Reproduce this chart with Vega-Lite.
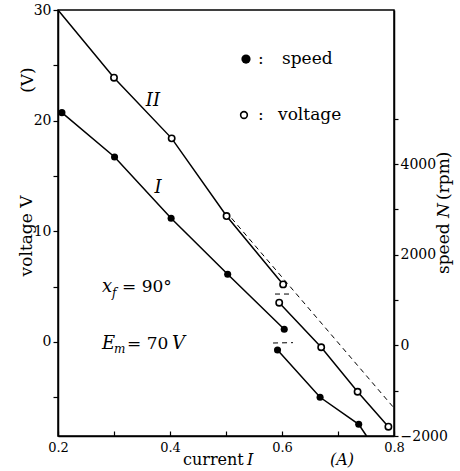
{
  "$schema": "https://vega.github.io/schema/vega-lite/v6.json",
  "width": 336,
  "height": 426,
  "autosize": {"type": "none"},
  "padding": {"left": 58, "top": 10, "right": 66, "bottom": 35},
  "background": "white",
  "config": {
    "view": {"stroke": "black", "strokeWidth": 1.5},
    "font": "DejaVu Serif",
    "text": {"font": "DejaVu Serif", "color": "black"},
    "axis": {
      "grid": false,
      "labelFont": "DejaVu Serif",
      "labelFontSize": 14,
      "labelColor": "black",
      "domainColor": "black",
      "domainWidth": 1.5,
      "tickColor": "black",
      "tickWidth": 1.2
    }
  },
  "datasets": {
    "vlines": [
      {"I": 0.2, "V": 30, "seg": "IIa", "kind": "measured"},
      {"I": 0.3, "V": 23.88, "seg": "IIa", "kind": "measured"},
      {"I": 0.403, "V": 18.4, "seg": "IIa", "kind": "measured"},
      {"I": 0.501, "V": 11.38, "seg": "IIa", "kind": "measured"},
      {"I": 0.602, "V": 5.2, "seg": "IIa", "kind": "measured"},
      {"I": 0.595, "V": 3.55, "seg": "IIb", "kind": "measured"},
      {"I": 0.67, "V": -0.48, "seg": "IIb", "kind": "measured"},
      {"I": 0.735, "V": -4.5, "seg": "IIb", "kind": "measured"},
      {"I": 0.79, "V": -7.66, "seg": "IIb", "kind": "measured"},
      {"I": 0.51, "V": 11.18, "seg": "IIext", "kind": "extrapolated"},
      {"I": 0.798, "V": -5.85, "seg": "IIext", "kind": "extrapolated"},
      {"I": 0.5875, "V": 4.33, "seg": "IIshift", "kind": "extrapolated"},
      {"I": 0.618, "V": 4.33, "seg": "IIshift", "kind": "extrapolated"}
    ],
    "voltage": [
      {"I": 0.3, "V": 23.88},
      {"I": 0.403, "V": 18.4},
      {"I": 0.501, "V": 11.38},
      {"I": 0.602, "V": 5.2},
      {"I": 0.595, "V": 3.55},
      {"I": 0.67, "V": -0.48},
      {"I": 0.735, "V": -4.5},
      {"I": 0.79, "V": -7.66}
    ],
    "slines": [
      {"I": 0.207, "N": 5135, "seg": "Ia", "kind": "measured"},
      {"I": 0.301, "N": 4157, "seg": "Ia", "kind": "measured"},
      {"I": 0.402, "N": 2804, "seg": "Ia", "kind": "measured"},
      {"I": 0.503, "N": 1568, "seg": "Ia", "kind": "measured"},
      {"I": 0.604, "N": 355, "seg": "Ia", "kind": "measured"},
      {"I": 0.592, "N": -102, "seg": "Ib", "kind": "measured"},
      {"I": 0.668, "N": -1146, "seg": "Ib", "kind": "measured"},
      {"I": 0.737, "N": -1742, "seg": "Ib", "kind": "measured"},
      {"I": 0.751, "N": -2000, "seg": "Ib", "kind": "measured"},
      {"I": 0.584, "N": 52, "seg": "Ishift", "kind": "extrapolated"},
      {"I": 0.6196, "N": 60, "seg": "Ishift", "kind": "extrapolated"}
    ],
    "speed": [
      {"I": 0.207, "N": 5135},
      {"I": 0.301, "N": 4157},
      {"I": 0.402, "N": 2804},
      {"I": 0.503, "N": 1568},
      {"I": 0.604, "N": 355},
      {"I": 0.592, "N": -102},
      {"I": 0.668, "N": -1146},
      {"I": 0.737, "N": -1742}
    ]
  },
  "layer": [
    {
      "encoding": {
        "x": {
          "field": "I", "type": "quantitative",
          "scale": {"domain": [0.2, 0.8], "nice": false, "zero": false},
          "axis": {
            "title": null,
            "values": [0.2, 0.3, 0.4, 0.5, 0.6, 0.7, 0.8],
            "format": ".1f",
            "labelExpr": "round(datum.value * 10) % 2 == 0 ? datum.label : ''",
            "tickSize": -5,
            "labelPadding": 10,
            "labelFontSize": 13,
            "labelFlush": false,
            "labelOverlap": false
          }
        },
        "y": {
          "field": "V", "type": "quantitative",
          "scale": {"domain": [-8.5, 30], "nice": false, "zero": false},
          "axis": {
            "title": null,
            "orient": "left",
            "values": [-5, 0, 5, 10, 15, 20, 25, 30],
            "labelExpr": "datum.value % 10 == 0 ? datum.label : ''",
            "tickSize": 5,
            "labelPadding": 2,
            "labelFlush": false,
            "labelOverlap": false
          }
        }
      },
      "layer": [
        {
          "data": {"name": "vlines"},
          "transform": [{"filter": "datum.kind == 'measured'"}],
          "mark": {"type": "line", "color": "black", "strokeWidth": 1.5},
          "encoding": {"detail": {"field": "seg"}}
        },
        {
          "data": {"name": "vlines"},
          "transform": [{"filter": "datum.kind == 'extrapolated'"}],
          "mark": {"type": "line", "color": "black", "strokeWidth": 1, "strokeDash": [5, 4]},
          "encoding": {"detail": {"field": "seg"}}
        },
        {
          "data": {"name": "voltage"},
          "mark": {"type": "point", "shape": "circle", "filled": true, "fill": "white", "stroke": "black", "strokeWidth": 1.6, "size": 40, "opacity": 1}
        },
        {
          "data": {"values": [{"I": 0.5357, "V": 25.57}]},
          "mark": {"type": "point", "shape": "circle", "filled": true, "color": "black", "size": 85, "opacity": 1}
        },
        {
          "data": {"values": [{"I": 0.5321, "V": 20.51}]},
          "mark": {"type": "point", "shape": "circle", "filled": true, "fill": "white", "stroke": "black", "strokeWidth": 1.6, "size": 45, "opacity": 1}
        },
        {
          "data": {"values": [
            {"I": 0.2786, "V": 4.51, "label": "x"},
            {"I": 0.2786, "V": -0.64, "label": "E"},
            {"I": 0.4036, "V": -0.64, "label": "V"}
          ]},
          "mark": {"type": "text", "fontSize": 18, "fontStyle": "italic", "align": "left", "baseline": "alphabetic"},
          "encoding": {"text": {"field": "label"}}
        },
        {
          "data": {"values": [
            {"I": 0.2964, "V": 4.06, "label": "f"},
            {"I": 0.3, "V": -1.0, "label": "m"}
          ]},
          "mark": {"type": "text", "fontSize": 12, "fontStyle": "italic", "align": "left", "baseline": "alphabetic"},
          "encoding": {"text": {"field": "label"}}
        },
        {
          "data": {"values": [
            {"I": 0.3143, "V": 4.51, "label": "= 90°"},
            {"I": 0.3232, "V": -0.64, "label": "= 70"}
          ]},
          "mark": {"type": "text", "fontSize": 17, "align": "left", "baseline": "alphabetic"},
          "encoding": {"text": {"field": "label"}}
        },
        {
          "data": {"values": [
            {"I": 0.3696, "V": 21.78, "label": "II"},
            {"I": 0.3786, "V": 13.91, "label": "I"}
          ]},
          "mark": {"type": "text", "fontSize": 18, "fontStyle": "italic", "align": "center", "baseline": "middle"},
          "encoding": {"text": {"field": "label"}}
        },
        {
          "data": {"values": [
            {"I": 0.5571, "V": 25.57, "label": ":"},
            {"I": 0.6, "V": 25.57, "label": "speed"},
            {"I": 0.5571, "V": 20.51, "label": ":"},
            {"I": 0.5929, "V": 20.51, "label": "voltage"}
          ]},
          "mark": {"type": "text", "fontSize": 17, "align": "left", "baseline": "middle"},
          "encoding": {"text": {"field": "label"}}
        },
        {
          "data": {"values": [
            {"I": 0.1446, "V": 9.58, "label": "voltage V"},
            {"I": 0.1464, "V": 23.67, "label": "(V)"}
          ]},
          "mark": {"type": "text", "fontSize": 17, "angle": 270, "align": "center", "baseline": "middle"},
          "encoding": {"text": {"field": "label"}}
        },
        {
          "data": {"values": [
            {"I": 0.8893, "V": 6.14, "label": "speed"},
            {"I": 0.8893, "V": 12.83, "label": "(rpm)"}
          ]},
          "mark": {"type": "text", "fontSize": 17, "angle": 270, "align": "left", "baseline": "middle"},
          "encoding": {"text": {"field": "label"}}
        },
        {
          "data": {"values": [
            {"I": 0.8893, "V": 11.2, "label": "N"}
          ]},
          "mark": {"type": "text", "fontSize": 17, "fontStyle": "italic", "angle": 270, "align": "left", "baseline": "middle"},
          "encoding": {"text": {"field": "label"}}
        },
        {
          "data": {"values": [
            {"I": 0.4232, "V": -11.15, "label": "current"}
          ]},
          "mark": {"type": "text", "fontSize": 16, "align": "left", "baseline": "alphabetic"},
          "encoding": {"text": {"field": "label"}}
        },
        {
          "data": {"values": [
            {"I": 0.5375, "V": -11.15, "label": "I"},
            {"I": 0.6857, "V": -11.15, "label": "(A)"}
          ]},
          "mark": {"type": "text", "fontSize": 16, "fontStyle": "italic", "align": "left", "baseline": "alphabetic"},
          "encoding": {"text": {"field": "label"}}
        }
      ]
    },
    {
      "encoding": {
        "x": {
          "field": "I", "type": "quantitative",
          "scale": {"domain": [0.2, 0.8], "nice": false, "zero": false},
          "axis": {
            "title": null,
            "values": [0.2, 0.3, 0.4, 0.5, 0.6, 0.7, 0.8],
            "format": ".1f",
            "labelExpr": "round(datum.value * 10) % 2 == 0 ? datum.label : ''",
            "tickSize": -5,
            "labelPadding": 10,
            "labelFontSize": 13,
            "labelFlush": false,
            "labelOverlap": false
          }
        },
        "y": {
          "field": "N", "type": "quantitative",
          "scale": {"domain": [-2000, 7400], "nice": false, "zero": false},
          "axis": {
            "title": null,
            "orient": "right",
            "values": [-2000, -1000, 0, 1000, 2000, 3000, 4000, 5000],
            "labelExpr": "datum.value % 2000 == 0 ? datum.label : ''",
            "format": "d",
            "tickSize": 4,
            "labelPadding": 2,
            "labelFlush": false,
            "labelOverlap": false
          }
        }
      },
      "layer": [
        {
          "data": {"name": "slines"},
          "transform": [{"filter": "datum.kind == 'measured'"}],
          "mark": {"type": "line", "color": "black", "strokeWidth": 1.5},
          "encoding": {"detail": {"field": "seg"}}
        },
        {
          "data": {"name": "slines"},
          "transform": [{"filter": "datum.kind == 'extrapolated'"}],
          "mark": {"type": "line", "color": "black", "strokeWidth": 1, "strokeDash": [5, 4]},
          "encoding": {"detail": {"field": "seg"}}
        },
        {
          "data": {"name": "speed"},
          "mark": {"type": "point", "shape": "circle", "filled": true, "color": "black", "size": 50, "opacity": 1}
        }
      ]
    }
  ],
  "resolve": {"scale": {"y": "independent"}}
}
